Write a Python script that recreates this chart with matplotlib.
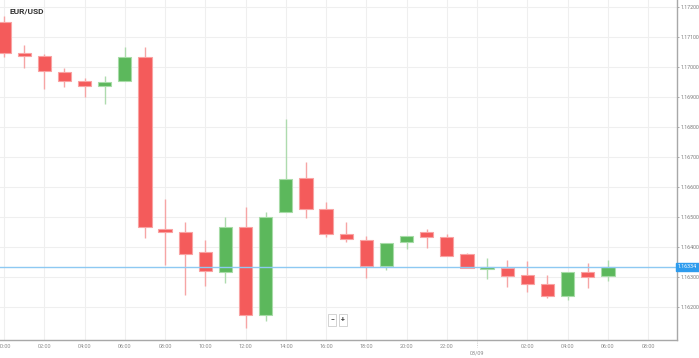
import matplotlib
matplotlib.use("Agg")
import matplotlib.pyplot as plt
from matplotlib.patches import Rectangle

plt.rcParams['font.family'] = ['Roboto', 'DejaVu Sans']

times = ["00:00", "01:00", "02:00", "03:00", "04:00", "05:00", "06:00", "07:00",
         "08:00", "09:00", "10:00", "11:00", "12:00", "13:00", "14:00", "15:00",
         "16:00", "17:00", "18:00", "19:00", "20:00", "21:00", "22:00", "23:00",
         "00:00", "01:00", "02:00", "03:00", "04:00", "05:00", "06:00"]
opens  = [1.17151, 1.17047, 1.17039, 1.16984, 1.16954, 1.16938, 1.16953, 1.17034,
          1.16462, 1.16452, 1.16385, 1.16319, 1.16469, 1.16174, 1.16518, 1.16630,
          1.16528, 1.16445, 1.16425, 1.16338, 1.16418, 1.16450, 1.16435, 1.16378,
          1.16329, 1.16332, 1.16307, 1.16277, 1.16238, 1.16318, 1.16304]
highs  = [1.17171, 1.17074, 1.17044, 1.16997, 1.16963, 1.16972, 1.17067, 1.17069,
          1.16560, 1.16485, 1.16424, 1.16500, 1.16535, 1.16517, 1.16828, 1.16685,
          1.16550, 1.16484, 1.16438, 1.16415, 1.16439, 1.16461, 1.16444, 1.16381,
          1.16363, 1.16358, 1.16355, 1.16307, 1.16319, 1.16349, 1.16358]
lows   = [1.17034, 1.16999, 1.16928, 1.16933, 1.16900, 1.16878, 1.16953, 1.16430,
          1.16340, 1.16241, 1.16271, 1.16282, 1.16130, 1.16154, 1.16518, 1.16499,
          1.16433, 1.16417, 1.16299, 1.16324, 1.16393, 1.16397, 1.16370, 1.16330,
          1.16293, 1.16267, 1.16252, 1.16232, 1.16224, 1.16265, 1.16289]
closes = [1.17048, 1.17039, 1.16987, 1.16954, 1.16937, 1.16951, 1.17033, 1.16467,
          1.16452, 1.16378, 1.16321, 1.16468, 1.16173, 1.16500, 1.16627, 1.16529,
          1.16443, 1.16427, 1.16338, 1.16415, 1.16439, 1.16433, 1.16371, 1.16330,
          1.16332, 1.16305, 1.16277, 1.16237, 1.16319, 1.16302, 1.16334]

current_price = 1.16334
title = "EUR/USD"
x_tick_pos = [0, 2, 4, 6, 8, 10, 12, 14, 16, 18, 20, 22, 26, 28, 30, 32]
x_tick_labels = ["00:00", "02:00", "04:00", "06:00", "08:00", "10:00", "12:00", "14:00",
                 "16:00", "18:00", "20:00", "22:00", "02:00", "04:00", "06:00", "08:00"]
date_pos = 23.5
date_label = "03/09"
y_ticks = [1.162, 1.163, 1.164, 1.165, 1.166, 1.167, 1.168, 1.169, 1.170, 1.171, 1.172]

RED = '#F45B5B'
RED_EDGE = '#F9A3A3'
RED_WICK = '#F6A5A5'
GREEN = '#5CB85C'
GREEN_EDGE = '#A8DCA8'
GREEN_WICK = '#AEDBAE'

fig = plt.figure(figsize=(6.99, 3.58), dpi=100)
ax = fig.add_axes([0, 18 / 358, 676.7 / 699, 340 / 358])

w = 0.66
for i in range(len(times)):
    o, h, l, c = opens[i], highs[i], lows[i], closes[i]
    up = c >= o
    fc = GREEN if up else RED
    ec = GREEN_EDGE if up else RED_EDGE
    wc = GREEN_WICK if up else RED_WICK
    ax.vlines(i, l, h, color=wc, linewidth=1.0, zorder=2)
    bottom = min(o, c)
    height = max(abs(c - o), 0.00004)
    ax.add_patch(Rectangle((i - w / 2, bottom), w, height, facecolor=fc,
                           edgecolor=ec, linewidth=0.8, zorder=3))

ax.axhline(current_price, color='#8EC9F2', linewidth=1.0, zorder=4)

ax.set_xlim(-0.2, 33.42)
ax.set_ylim(1.160910, 1.172243)

for gx in x_tick_pos + [date_pos]:
    ax.axvline(gx, color='#EFEFEF', linewidth=0.8, zorder=0)
for gy in y_ticks:
    ax.axhline(gy, color='#EFEFEF', linewidth=0.8, zorder=0)

ax.set_xticks(x_tick_pos)
ax.set_xticklabels(x_tick_labels)
ax.set_yticks(y_ticks)
ax.set_yticklabels([f"{v:.5f}" for v in y_ticks])
ax.yaxis.tick_right()
ax.tick_params(axis='x', length=0, pad=3, labelsize=4.0, labelcolor='#8A8A8A')
ax.tick_params(axis='y', length=1.5, width=0.6, color='#9A9A9A', pad=1.0,
               labelsize=3.8, labelcolor='#7A7A7A')

for s in ['top', 'left']:
    ax.spines[s].set_visible(False)
for s in ['bottom', 'right']:
    ax.spines[s].set_color('#A8A8A8')
    ax.spines[s].set_linewidth(1.0)

# date marker below the axis
ax.plot([date_pos, date_pos], [0, -0.02], transform=ax.get_xaxis_transform(),
        color='#BBBBBB', linewidth=0.6, linestyle=':', clip_on=False)
ax.text(date_pos, -0.038, date_label, transform=ax.get_xaxis_transform(),
        ha='center', va='center', fontsize=4.0, color='#8A8A8A')

# title
fig.text(9 / 699, 1 - 11.5 / 358, title, fontsize=6, fontweight='bold',
         color='#333333', ha='left', va='center')

# current price label
fig.text(687.5 / 699, 1 - 267 / 358, f"{current_price:.5f}", fontsize=3.8,
         color='white', ha='center', va='center',
         bbox=dict(boxstyle='square,pad=0.3', facecolor='#2E9CEE',
                   edgecolor='#2E9CEE'))

# zoom buttons
for xx, s in [(332 / 699, "\u2212"), (343 / 699, "+")]:
    fig.text(xx, 1 - 320 / 358, s, fontsize=5, color='#444444', ha='center',
             va='center', fontweight='bold',
             bbox=dict(boxstyle='square,pad=0.25', facecolor='white',
                       edgecolor='#CCCCCC', linewidth=0.6))

fig.savefig("out.png", dpi=100)
